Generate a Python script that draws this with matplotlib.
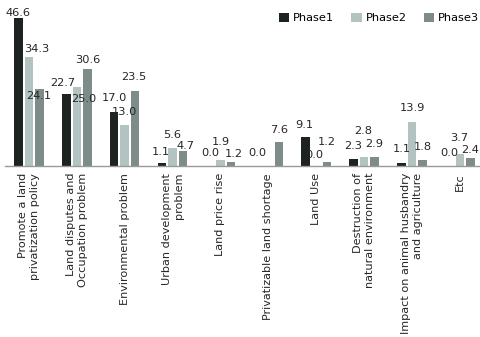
import numpy as np
import matplotlib
matplotlib.use('Agg')
import matplotlib.pyplot as plt

plt.rcParams['font.family'] = ['DejaVu Sans']

categories = ['Promote a land\nprivatization policy',
              'Land disputes and\nOccupation problem',
              'Environmental problem',
              'Urban development\nproblem',
              'Land price rise',
              'Privatizable land shortage',
              'Land Use',
              'Destruction of\nnatural environment',
              'Impact on animal husbandry\nand agriculture',
              'Etc']
phase1 = [46.6, 22.7, 17.0, 1.1, 0.0, 0.0, 9.1, 2.3, 1.1, 0.0]
phase2 = [34.3, 25.0, 13.0, 5.6, 1.9, np.nan, 0.0, 2.8, 13.9, 3.7]
phase3 = [24.1, 30.6, 23.5, 4.7, 1.2, 7.6, 1.2, 2.9, 1.8, 2.4]
series_names = ['Phase1', 'Phase2', 'Phase3']
colors = ['#1d2321', '#b3c3c2', '#7d8c89']

# label offsets (pixels) relative to the top centre of each bar, like the original layout
label_offsets = [
    [(0, 5), (-4, 11), (0, 14), (-1, 11), (0, 13), (0, 13), (-1, 12), (0, 13), (0, 14), (0, 13)],
    [(8, 8), (7, -12), (0, 13), (0, 13), (0, 18), (0, 13), (-2, 11), (-1, 26), (0, 14), (-1, 16)],
    [(-1, -7), (0, 9), (-1, 14), (2, 5), (3, 8), (0, 12), (0, 20), (0, 13), (0, 13), (0, 8)],
]

fig = plt.figure(figsize=(4.8, 3.37), dpi=100)
ax = fig.add_axes([5 / 480, 171 / 337, 474 / 480, 159 / 337])

x = np.arange(len(categories))
width = 0.177
step = 0.22
for i, (vals, name, c) in enumerate(zip([phase1, phase2, phase3], series_names, colors)):
    pos = x + (i - 1) * step
    ax.bar(pos, vals, width, color=c, label=name, zorder=2)
    for j, (p, v) in enumerate(zip(pos, vals)):
        if np.isnan(v):
            continue
        dx, dy = label_offsets[i][j]
        ax.annotate(f'{v:.1f}', (p, v), xytext=(dx, dy), textcoords='offset pixels',
                    ha='center', va='center', fontsize=8.2, color='#262626', zorder=3,
                    annotation_clip=False)

ax.set_xlim(-0.5, 9.4)
ax.set_ylim(0, 50)
ax.set_yticks([])
ax.set_xticks(x)
ax.set_xticklabels(categories, rotation=90, fontsize=8.1, color='#262626',
                   multialignment='right', linespacing=1.25)
ax.tick_params(axis='x', length=0, pad=5)
for s in ['top', 'right', 'left']:
    ax.spines[s].set_visible(False)
ax.spines['bottom'].set_color('#999999')
ax.spines['bottom'].set_linewidth(1.0)

fig.legend(loc='center right', bbox_to_anchor=(479 / 480, 1 - 18 / 337), ncol=3,
           frameon=False, fontsize=8.2, handlelength=0.9, handleheight=0.9,
           handletextpad=0.35, columnspacing=1.5, borderaxespad=0, borderpad=0)

fig.savefig('out.png', dpi=100)
